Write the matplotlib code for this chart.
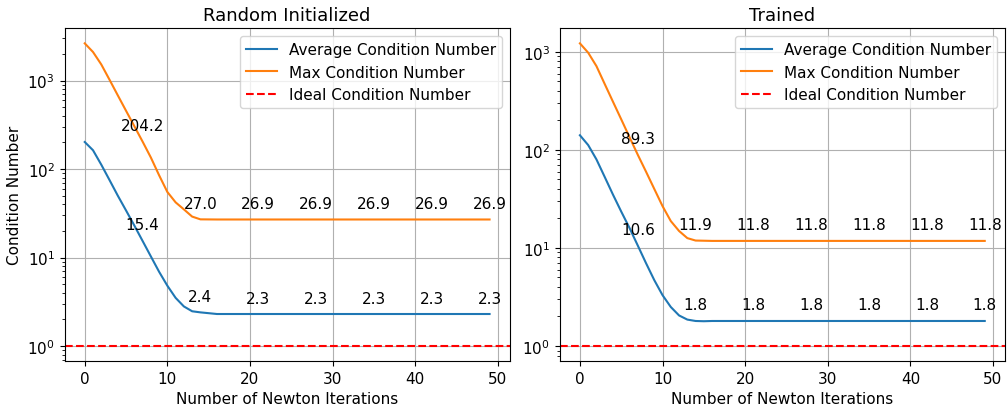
import numpy as np
import matplotlib
matplotlib.use("Agg")
import matplotlib.pyplot as plt

iters = np.arange(50)

# Random initialized (flat after iteration 16)
rand_avg_head = [202, 163, 112, 75, 50, 34, 23, 15.4, 10.3, 6.9, 4.8, 3.5, 2.8, 2.47, 2.4, 2.35]
rand_avg_tail = 2.3
rand_max_head = [2630, 2100, 1520, 1020, 680, 455, 305, 204.2, 135, 85, 55, 42, 35, 29, 27.0, 26.95]
rand_max_tail = 26.9

# Trained
train_avg_head = [141, 112, 80, 53, 35, 23.5, 16, 10.6, 7.0, 4.7, 3.3, 2.5, 2.05, 1.86, 1.8, 1.79]
train_avg_tail = 1.8
train_max_head = [1220, 980, 715, 470, 310, 205, 135, 89.3, 60, 40, 26.7, 18.8, 14.9, 12.6, 11.9, 11.85]
train_max_tail = 11.8

label_iters = [7, 14, 21, 28, 35, 42, 49]


def full_series(head, tail):
    return np.array(head + [tail] * (len(iters) - len(head)))


panels = [
    ("Random Initialized", full_series(rand_avg_head, rand_avg_tail), full_series(rand_max_head, rand_max_tail)),
    ("Trained", full_series(train_avg_head, train_avg_tail), full_series(train_max_head, train_max_tail)),
]

plt.rcParams["font.size"] = 11
fig, axes = plt.subplots(1, 2, figsize=(10.08, 4.06), dpi=100)
fig.subplots_adjust(left=0.064, right=0.997, bottom=0.108, top=0.928, wspace=0.112)

for ax, (title, avg, mx) in zip(axes, panels):
    ax.plot(iters, avg, label="Average Condition Number")
    ax.plot(iters, mx, label="Max Condition Number")
    ax.axhline(1, color="red", linestyle="--", label="Ideal Condition Number")
    ax.set_yscale("log")
    for i in label_iters:
        for series in (avg, mx):
            ax.annotate(f"{series[i]:.1f}", (iters[i], series[i]), xytext=(0, 16),
                        textcoords="offset pixels", ha="center", va="center")
    ax.set_title(title, fontsize=13)
    ax.set_xlabel("Number of Newton Iterations")
    ax.grid(True)
    ax.legend(loc="upper right")

axes[0].set_ylabel("Condition Number")

fig.savefig("out.png", dpi=100)
